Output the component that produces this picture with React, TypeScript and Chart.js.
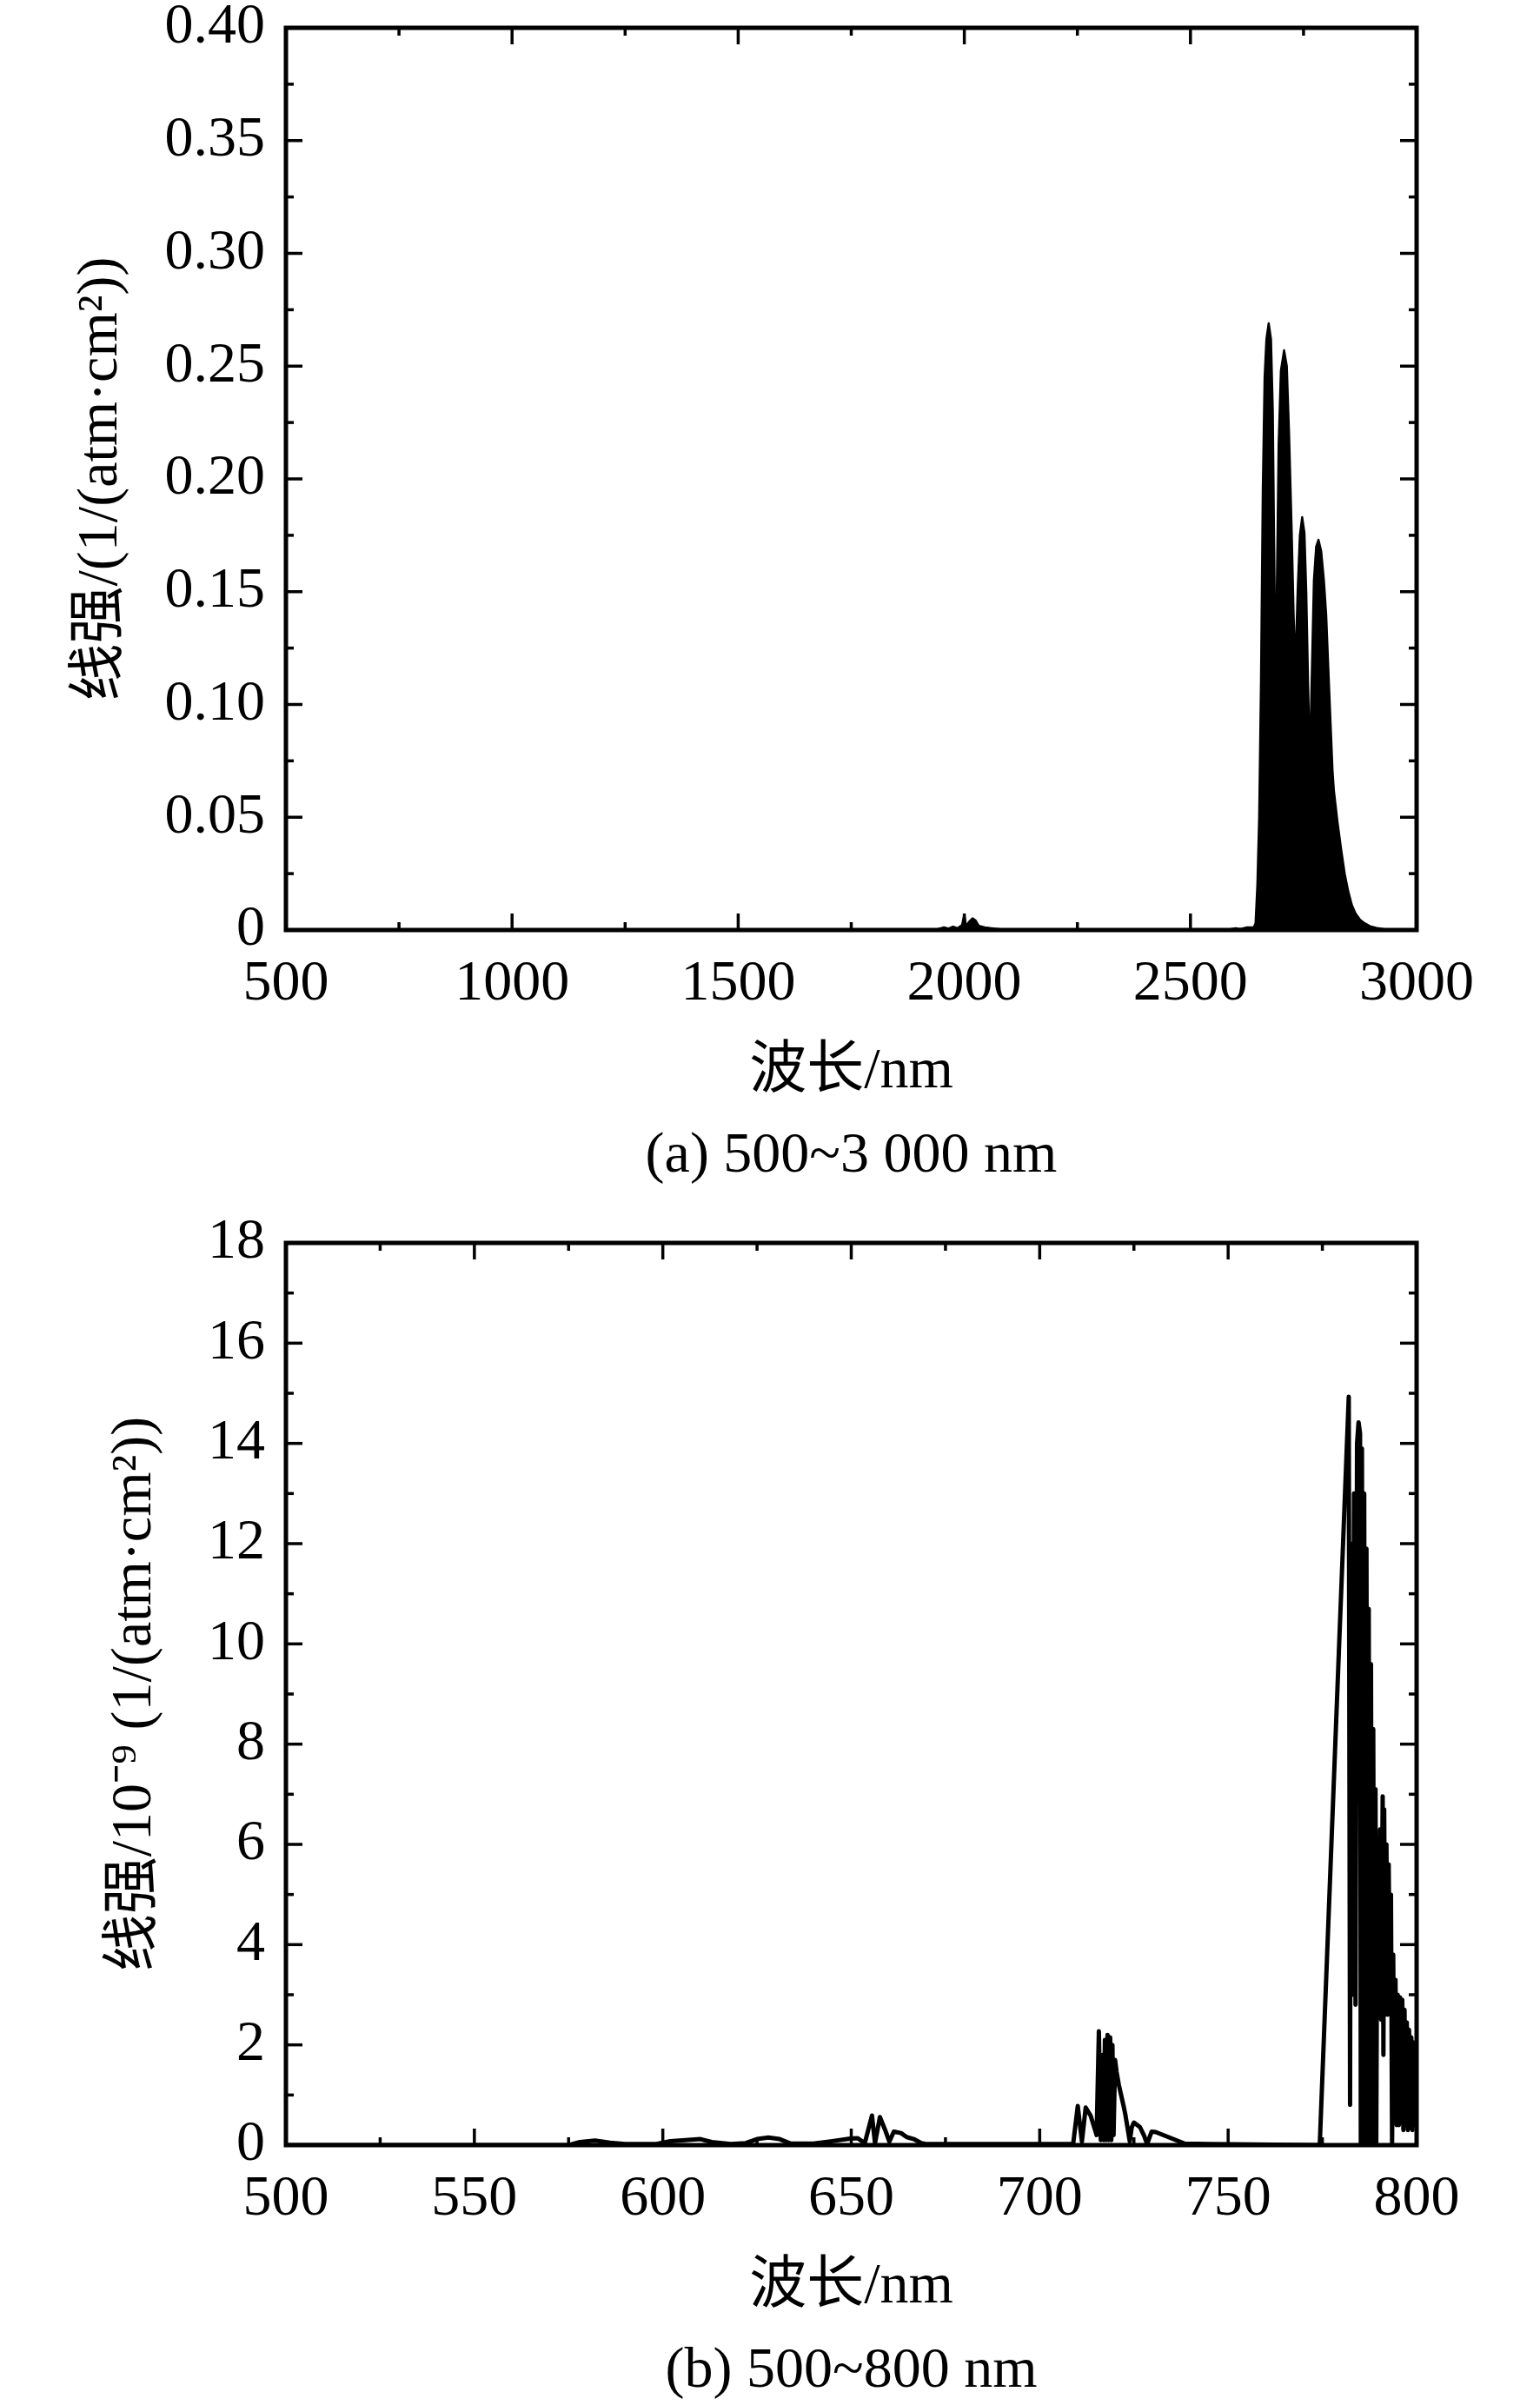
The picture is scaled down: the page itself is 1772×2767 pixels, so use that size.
import React, { useEffect, useRef } from 'react';
import Chart from 'chart.js/auto';

const FONT = '"Liberation Serif", "Times New Roman", "Noto Sans CJK SC", serif';

// (a) 500~3000 nm
const wavelengthA = [
    500, 1900, 1940, 1955, 1965, 1975, 1985, 1995, 2000, 2004, 2010, 2018, 2025, 2032, 2045, 2060, 2080, 2100,
    2580, 2600, 2610, 2625, 2640, 2644, 2648, 2652, 2656, 2660, 2664, 2668, 2673, 2678, 2682, 2685, 2688,
    2691, 2695, 2700, 2707, 2713, 2718, 2724, 2728, 2732, 2737, 2742, 2747, 2752, 2756, 2760, 2764,
    2768, 2773, 2778, 2783, 2789, 2795, 2800, 2807, 2814, 2817, 2825, 2833, 2841, 2849, 2857, 2865,
    2875, 2885, 2897, 2910, 2930, 2950, 3000,
];
const strengthA = [
    0, 0, 0.0003, 0.0012, 0.0006, 0.0015, 0.0008, 0.0022, 0.0068, 0.0015, 0.0035, 0.0052, 0.0042, 0.0018, 0.0012, 0.0008, 0.0003, 0,
    0, 0.0008, 0.0004, 0.0012, 0.0012, 0.003, 0.02, 0.05, 0.11, 0.195, 0.245, 0.262, 0.269, 0.262, 0.23, 0.17, 0.113,
    0.15, 0.215, 0.248, 0.257, 0.25, 0.22, 0.175, 0.14, 0.116, 0.15, 0.175, 0.183, 0.176, 0.15, 0.11, 0.073,
    0.11, 0.155, 0.17, 0.173, 0.168, 0.155, 0.14, 0.105, 0.071, 0.062, 0.048, 0.036, 0.025, 0.017, 0.011, 0.0073,
    0.0045, 0.003, 0.0017, 0.001, 0.0003, 0, 0,
];
const xTicksA = [500, 1000, 1500, 2000, 2500, 3000];
const yTicksA = [0, 0.05, 0.1, 0.15, 0.2, 0.25, 0.3, 0.35, 0.4];
const yLabelsA = ['0', '0.05', '0.10', '0.15', '0.20', '0.25', '0.30', '0.35', '0.40'];

// (b) 500~800 nm, in 10^-9
const wavelengthB = [
    500, 575, 578, 582, 586, 590, 598, 602, 606, 610, 613, 618, 622, 625, 628, 631, 634, 640, 645,
    649.7, 651.7, 653.6, 655.5, 656.3, 657.6, 659.0, 660.1, 661.3, 663.2, 664.7, 666.6, 668.6, 670.1,
    690, 708.5, 708.9, 710.1, 711.2, 712.2, 713.5, 714.7, 715.1, 715.7, 716.2, 716.6, 717.0, 717.3,
    717.6, 718.0, 718.3, 718.7, 719.0, 719.3, 719.6, 720.0, 720.4, 721.0, 721.6, 722.2, 722.7, 723.4,
    723.9, 724.4, 725.0, 726.6, 727.7, 728.5, 729.7, 730.8, 738.5, 745, 774.3,
    782.0, 782.35, 782.6, 783.0, 783.4, 783.8, 784.2, 784.6, 785.0, 785.2, 785.5, 785.8, 786.1, 786.4,
    786.7, 787.0, 787.3, 787.6, 787.9, 788.2, 788.5, 788.8, 789.1, 789.3, 789.6, 789.9, 790.3, 790.6,
    791.0, 791.2, 791.4, 791.7, 792.0, 792.3, 792.6, 792.9, 793.2, 793.5, 793.8, 794.1, 794.4, 794.7,
    795.0, 795.3, 795.6, 795.9, 796.2, 796.5, 796.8, 797.1, 797.4, 797.7, 798.0, 798.3, 798.6, 798.9,
    799.2, 799.5, 799.8, 800,
];
const strengthB = [
    0, 0, 0.06, 0.09, 0.05, 0.02, 0.02, 0.08, 0.1, 0.12, 0.06, 0.02, 0.04, 0.12, 0.15, 0.12, 0.03, 0.03, 0.08,
    0.13, 0.14, 0.04, 0.59, 0.04, 0.56, 0.3, 0.07, 0.27, 0.24, 0.16, 0.12, 0.04, 0.02,
    0.02, 0.02, 0.04, 0.78, 0.07, 0.75, 0.59, 0.3, 0.2, 2.27, 0.1, 1.8, 0.1, 2.1,
    0.1, 2.2, 0.1, 2.15, 0.1, 2.0, 0.2, 1.7, 1.46, 1.2, 1.0, 0.8, 0.62, 0.3,
    0.07, 0.35, 0.45, 0.36, 0.19, 0.02, 0.27, 0.26, 0.03, 0.02, 0,
    14.93, 0.8, 12.0, 3.0, 13.0, 2.8, 14.0, 14.42, 14.2, 0, 13.9, 0, 13.0, 0,
    11.9, 0, 10.7, 0, 9.6, 0, 8.3, 0, 7.1, 0, 5.8, 2.6, 6.3, 2.5,
    6.96, 1.8, 6.7, 2.6, 6.0, 2.6, 5.6, 2.7, 5.0, 0, 3.8, 0.5, 3.3, 0.4,
    3.0, 0.4, 2.95, 0.45, 2.9, 0.3, 2.7, 0.4, 2.45, 0.3, 2.3, 0.35, 2.15, 0.3,
    2.05, 0.4, 1.95, 1.9,
];
const xTicksB = [500, 550, 600, 650, 700, 750, 800];
const yTicksB = [0, 2, 4, 6, 8, 10, 12, 14, 16, 18];
const yLabelsB = ['0', '2', '4', '6', '8', '10', '12', '14', '16', '18'];

const X_AXIS_HEIGHT = 197;
const PLOT_BOTTOM = 1070;

// frame, inward ticks on all four sides, and the caption under the axis title
const axisFrame = {
    id: 'axisFrame',
    afterDatasetsDraw(chart: any, _args: any, opts: any) {
        const { ctx, chartArea, scales } = chart;
        const { left, right, top, bottom } = chartArea;
        const line = (x1: number, y1: number, x2: number, y2: number) => {
            ctx.beginPath();
            ctx.moveTo(x1, y1);
            ctx.lineTo(x2, y2);
            ctx.stroke();
        };
        const withMinors = (vals: number[]) => {
            const out: [number, number][] = [];
            vals.forEach((v, i) => {
                out.push([v, 19]);
                if (i < vals.length - 1) out.push([(v + vals[i + 1]) / 2, 9]);
            });
            return out;
        };
        ctx.save();
        ctx.strokeStyle = '#000';
        ctx.lineWidth = 3.5;
        withMinors(scales.x.ticks.map((t: any) => t.value)).forEach(([v, len]) => {
            const px = scales.x.getPixelForValue(v);
            line(px, bottom, px, bottom - len);
            line(px, top, px, top + len);
        });
        withMinors(scales.y.ticks.map((t: any) => t.value)).forEach(([v, len]) => {
            const py = scales.y.getPixelForValue(v);
            line(left, py, left + len, py);
            line(right, py, right - len, py);
        });
        ctx.lineWidth = 5;
        ctx.strokeRect(left, top, right - left, bottom - top);

        ctx.fillStyle = '#000';
        ctx.font = `66px ${FONT}`;
        ctx.textAlign = 'center';
        ctx.textBaseline = 'middle';
        ctx.fillText(opts.caption, (left + right) / 2, bottom + 261);
        ctx.restore();
    },
};

interface PanelProps {
    wavelengths: number[];
    strengths: number[];
    xTicks: number[];
    yTicks: number[];
    yLabels: string[];
    yTitle: string;
    caption: string;
    filled: boolean;
    lineWidth: number;
    yTitleGap: number;
    height: number;
}

const Panel: React.FC<PanelProps> = (p) => {
    const chartRef = useRef<HTMLCanvasElement>(null);

    useEffect(() => {
        if (!chartRef.current) return;
        const titleFont = { family: FONT, size: 66, lineHeight: 1 };
        const chart = new Chart(chartRef.current, {
            type: 'line',
            data: {
                datasets: [
                    {
                        data: p.wavelengths.map((x, i) => ({ x, y: p.strengths[i] })),
                        borderColor: '#000',
                        backgroundColor: '#000',
                        borderWidth: p.lineWidth,
                        pointRadius: 0,
                        fill: p.filled ? 'origin' : false,
                        tension: 0,
                        borderJoinStyle: 'round',
                        borderCapStyle: 'round',
                    },
                ],
            },
            options: {
                animation: false,
                responsive: true,
                maintainAspectRatio: false,
                devicePixelRatio: 1,
                layout: {
                    padding: { left: 0, right: 142, top: 32, bottom: p.height - PLOT_BOTTOM - X_AXIS_HEIGHT },
                },
                plugins: {
                    legend: { display: false },
                    tooltip: { enabled: false },
                    axisFrame: { caption: p.caption },
                } as any,
                scales: {
                    x: {
                        type: 'linear',
                        min: p.xTicks[0],
                        max: p.xTicks[p.xTicks.length - 1],
                        afterBuildTicks: (s: any) => {
                            s.ticks = p.xTicks.map((v) => ({ value: v }));
                        },
                        afterFit: (s: any) => {
                            s.height = X_AXIS_HEIGHT;
                        },
                        grid: { display: false, drawTicks: false },
                        border: { display: false },
                        ticks: {
                            padding: 33,
                            color: '#000',
                            font: { family: FONT, size: 66, lineHeight: 0.9 },
                            maxRotation: 0,
                            autoSkip: false,
                            callback: (v: any) => String(v),
                        },
                        title: {
                            display: true,
                            text: '波长/nm',
                            color: '#000',
                            font: titleFont,
                            padding: { top: 0, bottom: 0 },
                        },
                    },
                    y: {
                        type: 'linear',
                        min: p.yTicks[0],
                        max: p.yTicks[p.yTicks.length - 1],
                        afterBuildTicks: (s: any) => {
                            s.ticks = p.yTicks.map((v) => ({ value: v }));
                        },
                        afterFit: (s: any) => {
                            s.width = 329;
                        },
                        grid: { display: false, drawTicks: false },
                        border: { display: false },
                        ticks: {
                            padding: 24,
                            color: '#000',
                            // small line height keeps the top/bottom labels from pushing the plot area in
                            font: { family: FONT, size: 66, lineHeight: 0.2 },
                            autoSkip: false,
                            callback: (_v: any, i: number) => p.yLabels[i],
                        },
                        title: {
                            display: true,
                            text: p.yTitle,
                            color: '#000',
                            font: titleFont,
                            padding: { top: p.yTitleGap, bottom: 0 },
                        },
                    },
                },
            },
            plugins: [axisFrame],
        } as any);

        return () => {
            chart.destroy();
        };
    }, []);

    return (
        <div style={{ position: 'relative', width: 1772, height: p.height }}>
            <canvas ref={chartRef} />
        </div>
    );
};

const App: React.FC = () => {
    useEffect(() => {
        document.body.style.margin = '0';
    }, []);

    return (
        <div style={{ width: 1772, height: 2767, background: '#fff' }}>
            <Panel
                wavelengths={wavelengthA}
                strengths={strengthA}
                xTicks={xTicksA}
                yTicks={yTicksA}
                yLabels={yLabelsA}
                yTitle="线强/(1/(atm·cm²))"
                caption="(a) 500~3 000 nm"
                filled={true}
                lineWidth={2.5}
                yTitleGap={84}
                height={1398}
            />
            <Panel
                wavelengths={wavelengthB}
                strengths={strengthB}
                xTicks={xTicksB}
                yTicks={yTicksB}
                yLabels={yLabelsB}
                yTitle="线强/10⁻⁹ (1/(atm·cm²))"
                caption="(b) 500~800 nm"
                filled={false}
                lineWidth={5}
                yTitleGap={123}
                height={1369}
            />
        </div>
    );
};

export default App;
